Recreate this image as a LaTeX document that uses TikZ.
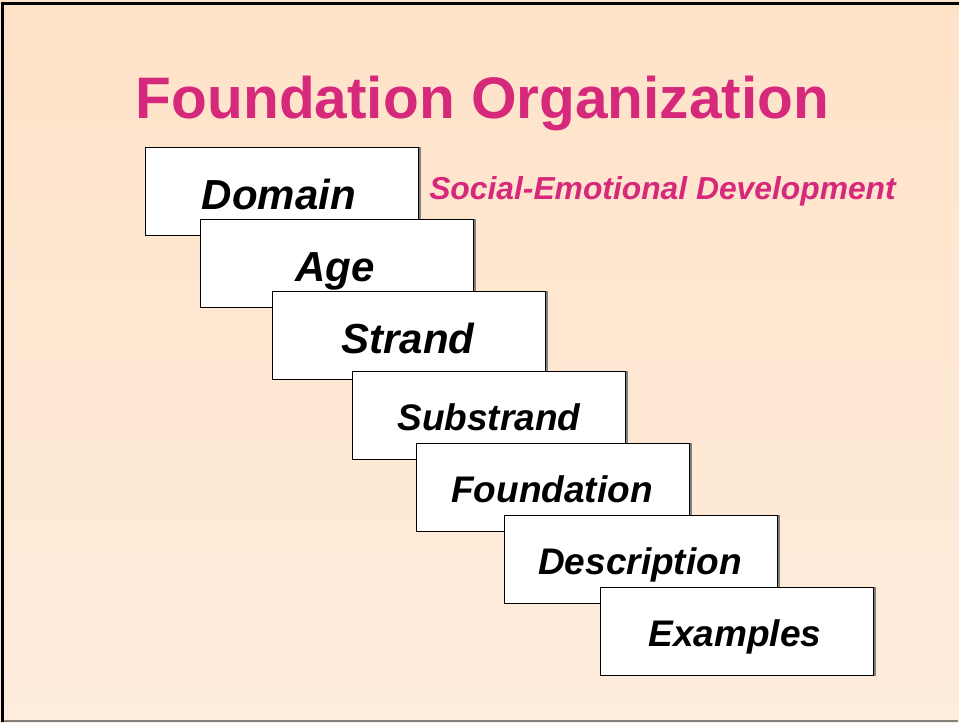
\documentclass[tikz,border=0pt]{standalone}
\usepackage{fontspec}
\setmainfont{Liberation Sans}
\definecolor{titlemag}{RGB}{214,41,123}
\definecolor{bgtop}{RGB}{255,227,201}
\definecolor{bgbot}{RGB}{254,236,220}
\definecolor{shadowgrey}{RGB}{128,128,128}
\tikzset{
  stepbox/.style={draw=black, line width=0.9pt, fill=white, minimum width=273pt, minimum height=88pt, inner sep=0pt, anchor=north west, font=\bfseries\itshape},
  bigtxt/.style={font=\fontsize{42}{48}\selectfont\bfseries\itshape, anchor=base},
  smalltxt/.style={font=\fontsize{37}{42}\selectfont\bfseries\itshape, anchor=base},
}
\newcommand{\boxshadow}[1]{\draw[shadowgrey, line width=1.6pt] ([xshift=0.8pt]#1.north east) -- ([xshift=0.8pt]#1.south east);}
\begin{document}
\begin{tikzpicture}[x=1pt,y=-1pt]
\useasboundingbox (0,0) rectangle (959,723);
\shade[top color=bgtop, bottom color=bgbot] (0,0) rectangle (959,723);
\draw[shadowgrey, line width=1.2pt] (2,3) -- (2,721) -- (958,721);
\draw[black, line width=3pt] (2,722) -- (2,3) -- (959,3);
\node[text=titlemag, font=\fontsize{58.6}{66}\selectfont\bfseries, anchor=base] (title) at (482.5,118) {Foundation Organization};
\node[text=titlemag, font=\fontsize{31.8}{36}\selectfont\bfseries\itshape, anchor=base] (sed) at (662.5,199) {Social-Emotional Development};
\node[stepbox] (domain) at (145,147) {};
\boxshadow{domain}
\node[bigtxt] (tdomain) at (279,209) {Domain};
\node[stepbox] (age) at (200,219) {};
\boxshadow{age}
\node[bigtxt] (tage) at (335,281) {Age};
\node[stepbox] (strand) at (272,291) {};
\boxshadow{strand}
\node[bigtxt] (tstrand) at (408,353) {Strand};
\node[stepbox] (substrand) at (352,371) {};
\boxshadow{substrand}
\node[smalltxt] (tsubstrand) at (489,430) {Substrand};
\node[stepbox] (foundation) at (416,443) {};
\boxshadow{foundation}
\node[smalltxt] (tfoundation) at (552,502) {Foundation};
\node[stepbox] (description) at (504,515) {};
\boxshadow{description}
\node[smalltxt] (tdescription) at (640,574) {Description};
\node[stepbox] (examples) at (600,587) {};
\boxshadow{examples}
\node[smalltxt] (texamples) at (735,646) {Examples};
\end{tikzpicture}
\end{document}
